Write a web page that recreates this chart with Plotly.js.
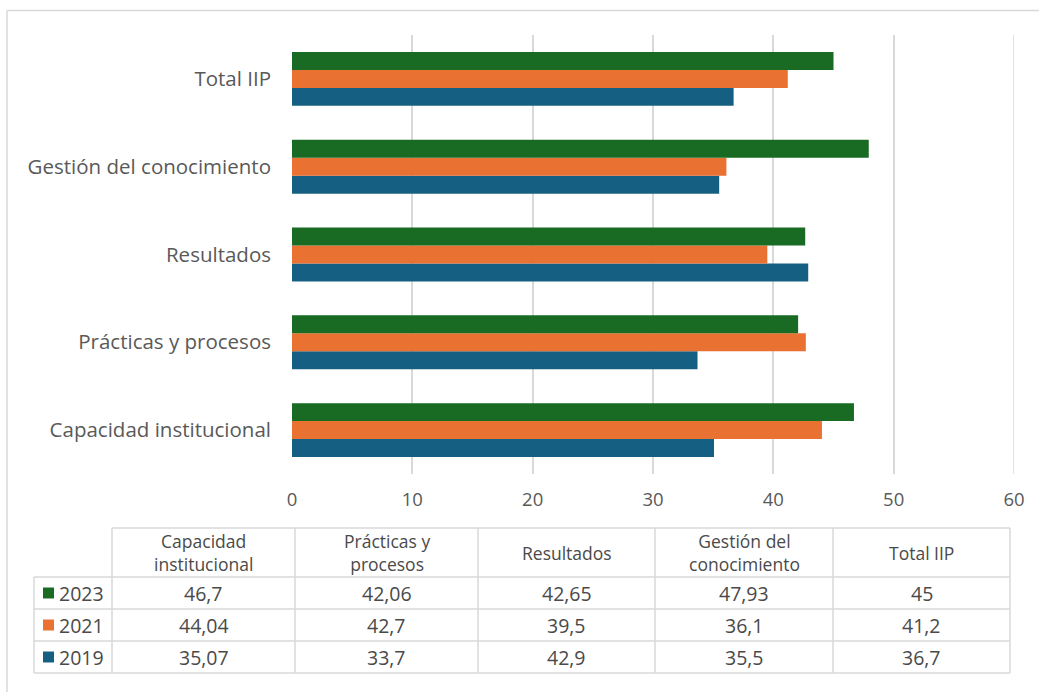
<!DOCTYPE html>
<html>
<head>
<meta charset="utf-8">
<script src="https://cdn.plot.ly/plotly-3.0.1.min.js"></script>
<style>html,body{margin:0;padding:0;background:#fff;}#chart{width:1039px;height:692px;}</style>
</head>
<body>
<div id="chart"></div>
<script>
const categories = ["Capacidad institucional", "Prácticas y procesos", "Resultados", "Gestión del conocimiento", "Total IIP"];
const headerLabels = ["Capacidad<br>institucional", "Prácticas y<br>procesos", "Resultados", "Gestión del<br>conocimiento", "Total IIP"];
const years = ["2019", "2021", "2023"];
const values2019 = [35.07, 33.7, 42.9, 35.5, 36.7];
const values2021 = [44.04, 42.7, 39.5, 36.1, 41.2];
const values2023 = [46.7, 42.06, 42.65, 47.93, 45];
const colors = {"2019": "#156082", "2021": "#E97132", "2023": "#196B24"};
const xTicks = [0, 10, 20, 30, 40, 50, 60];

const W = 1039, H = 692;
const M = {l: 292, r: 25, t: 35, b: 218};
const pw = W - M.l - M.r, ph = H - M.t - M.b;
const px = x => (x - M.l) / pw;
const py = y => (H - M.b - y) / ph;
const FONT = "Open Sans, sans-serif";
const GRID = "#d9d9d9";

const seriesVals = {"2019": values2019, "2021": values2021, "2023": values2023};
const traces = years.map(y => ({
  type: "bar", orientation: "h", name: y,
  y: categories, x: seriesVals[y],
  marker: {color: colors[y]}, hoverinfo: "x+y"
}));

const shapes = [];
const annotations = [];
function hline(x0, x1, y, color, w) {
  shapes.push({type: "line", xref: "paper", yref: "paper", x0: px(x0), x1: px(x1), y0: py(y), y1: py(y), line: {color: color || GRID, width: w || 1.5}});
}
function vline(x, y0, y1, color, w) {
  shapes.push({type: "line", xref: "paper", yref: "paper", x0: px(x), x1: px(x), y0: py(y0), y1: py(y1), line: {color: color || GRID, width: w || 1.5}});
}
// outer border
hline(7, 1039, 10.5, "#d9d9d9", 1.5);
vline(7, 10.5, 692, "#d9d9d9", 1.5);
// gridline at 60 (edge of range)
shapes.push({type: "line", xref: "x", yref: "paper", x0: 60, x1: 60, y0: 0, y1: 1, line: {color: GRID, width: 1.5}});

// table geometry
const colEdges = [112, 295, 478, 655, 833, 1010];
const legendLeft = 34;
const rowEdges = [528, 577, 609, 641, 673];
hline(colEdges[0], colEdges[5], rowEdges[0]);
for (let i = 1; i < rowEdges.length; i++) hline(legendLeft, colEdges[5], rowEdges[i]);
vline(legendLeft, rowEdges[1], rowEdges[4]);
colEdges.forEach(c => vline(c, rowEdges[0], rowEdges[4]));

function addText(x, y, text, xanchor, size) {
  annotations.push({xref: "paper", yref: "paper", x: px(x), y: py(y), text: text, showarrow: false,
    xanchor: xanchor || "center", yanchor: "middle",
    font: {family: FONT, size: size || 19.5, color: "#4a4a4a"}});
}
headerLabels.forEach((h, i) => {
  const xc = (colEdges[i] + colEdges[i + 1]) / 2;
  addText(xc, (rowEdges[0] + rowEdges[1]) / 2, h, "center", 17.5);
});
const tableYears = ["2023", "2021", "2019"];
tableYears.forEach((yr, r) => {
  const yc = (rowEdges[r + 1] + rowEdges[r + 2]) / 2;
  shapes.push({type: "rect", xref: "paper", yref: "paper", x0: px(43), x1: px(54), y0: py(yc - 5.5), y1: py(yc + 5.5),
    fillcolor: colors[yr], line: {width: 0}});
  addText(57, yc, yr, "left");
  seriesVals[yr].forEach((v, i) => {
    addText((colEdges[i] + colEdges[i + 1]) / 2, yc, String(v).replace(".", ","));
  });
});

const layout = {
  width: W, height: H,
  margin: M,
  paper_bgcolor: "#fff", plot_bgcolor: "#fff",
  barmode: "group", bargap: 0.386, bargroupgap: 0,
  showlegend: false,
  font: {family: FONT, size: 19, color: "#595959"},
  xaxis: {range: [0, 60], tickvals: xTicks, showgrid: true, gridcolor: GRID, gridwidth: 1.5,
    zeroline: false, showline: false, ticks: "", ticklabelstandoff: 12,
    tickfont: {family: FONT, size: 18.5, color: "#595959"}, fixedrange: true},
  yaxis: {type: "category", categoryorder: "array", categoryarray: categories,
    showgrid: false, zeroline: false, showline: false, ticks: "", ticklabelstandoff: 20,
    tickfont: {family: FONT, size: 20.5, color: "#595959"}, fixedrange: true},
  shapes: shapes, annotations: annotations
};
Plotly.newPlot("chart", traces, layout, {displayModeBar: false, responsive: false});
</script>
</body>
</html>
